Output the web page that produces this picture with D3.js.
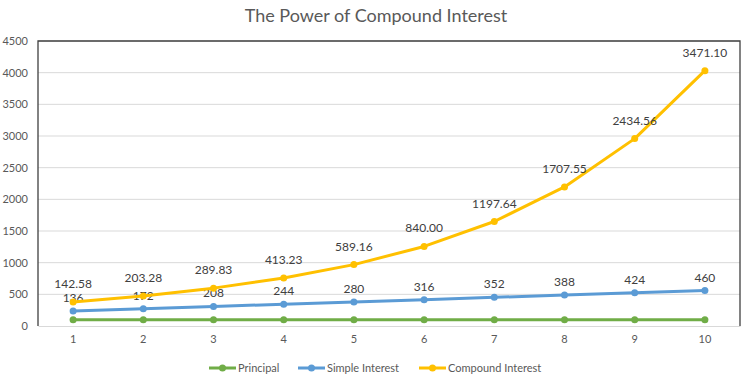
<!DOCTYPE html>
<html>
<head>
<meta charset="utf-8">
<script src="https://cdn.jsdelivr.net/npm/d3@7"></script>
<style>
  body { margin: 0; background: #fff; }
  text { font-family: "Lato", "Open Sans", sans-serif; }
</style>
</head>
<body>
<svg width="752" height="388"></svg>
<script>
var years = [1, 2, 3, 4, 5, 6, 7, 8, 9, 10];
var principal = [100, 100, 100, 100, 100, 100, 100, 100, 100, 100];
var simpleInterest = [136, 172, 208, 244, 280, 316, 352, 388, 424, 460];
var compoundInterest = [142.58, 203.28, 289.83, 413.23, 589.16, 840.00, 1197.64, 1707.55, 2434.56, 3471.10];
var yTicks = [0, 500, 1000, 1500, 2000, 2500, 3000, 3500, 4000, 4500];

var svg = d3.select("svg"),
    margin = {top: 41, right: 12, bottom: 62, left: 38},
    width = 752 - margin.left - margin.right,
    height = 388 - margin.top - margin.bottom,
    g = svg.append("g").attr("transform", "translate(" + margin.left + "," + margin.top + ")");

svg.append("text")
    .attr("x", 376)
    .attr("y", 22)
    .attr("text-anchor", "middle")
    .attr("fill", "#595959")
    .style("font-size", "18px")
    .text("The Power of Compound Interest");

var x = d3.scaleBand().domain(years).range([0, width]),
    y = d3.scaleLinear().domain([0, 4500]).range([height, 0]);

// stacked line chart: each series sits on top of the previous one
var series = [
    {name: "Principal", color: "#70AD47", values: principal, labels: false},
    {name: "Simple Interest", color: "#5B9BD5", values: simpleInterest, labels: true, fmt: d3.format("d"), off: 9},
    {name: "Compound Interest", color: "#FFC000", values: compoundInterest, labels: true, fmt: d3.format(".2f"), off: 14}
];
var base = years.map(function() { return 0; });
series.forEach(function(s) {
    s.points = years.map(function(yr, i) {
        base[i] += s.values[i];
        return {year: yr, value: s.values[i], top: base[i]};
    });
});

// gridlines
g.append("g")
    .selectAll("line")
    .data(yTicks.slice(1))
    .enter().append("line")
    .attr("x1", 0).attr("x2", width)
    .attr("y1", function(d) { return y(d); })
    .attr("y2", function(d) { return y(d); })
    .attr("stroke", "#d9d9d9");

// x axis
var xAxis = g.append("g")
    .attr("transform", "translate(0," + height + ")")
    .call(d3.axisBottom(x).tickSize(0).tickPadding(9));
xAxis.select(".domain").attr("stroke", "#d9d9d9");
xAxis.selectAll("text").attr("fill", "#595959").style("font-size", "11px");

// y axis
var yAxis = g.append("g")
    .call(d3.axisLeft(y).tickValues(yTicks).tickFormat(d3.format("d")).tickSize(0).tickPadding(10));
yAxis.select(".domain").remove();
yAxis.selectAll("text").attr("fill", "#595959").style("font-size", "11px");

// plot border (left, top, right)
g.append("path")
    .attr("d", "M0," + height + "V0H" + width + "V" + height)
    .attr("fill", "none")
    .attr("stroke", "#404040")
    .attr("stroke-width", 1.3);

var line = d3.line()
    .x(function(d) { return x(d.year) + x.bandwidth() / 2; })
    .y(function(d) { return y(d.top); });

var sg = g.selectAll(".series")
    .data(series)
    .enter().append("g")
    .attr("class", "series");

sg.append("path")
    .attr("d", function(d) { return line(d.points); })
    .attr("fill", "none")
    .attr("stroke", function(d) { return d.color; })
    .attr("stroke-width", 3)
    .attr("stroke-linejoin", "round");

sg.selectAll("circle")
    .data(function(d) { return d.points.map(function(p) { return {p: p, color: d.color}; }); })
    .enter().append("circle")
    .attr("cx", function(d) { return x(d.p.year) + x.bandwidth() / 2; })
    .attr("cy", function(d) { return y(d.p.top); })
    .attr("r", 3.5)
    .attr("fill", function(d) { return d.color; });

sg.filter(function(d) { return d.labels; })
    .selectAll(".label")
    .data(function(d) { return d.points.map(function(p) { return {p: p, s: d}; }); })
    .enter().append("text")
    .attr("class", "label")
    .attr("x", function(d) { return x(d.p.year) + x.bandwidth() / 2; })
    .attr("y", function(d) { return y(d.p.top) - d.s.off; })
    .attr("text-anchor", "middle")
    .attr("fill", "#404040")
    .style("font-size", "12px")
    .text(function(d) { return d.s.fmt(d.p.value); });

// legend
var legendX = [209, 298, 419];
var legend = svg.append("g")
    .selectAll("g")
    .data(series)
    .enter().append("g")
    .attr("transform", function(d, i) { return "translate(" + legendX[i] + ",368)"; });

legend.append("line")
    .attr("x1", 0).attr("x2", 27)
    .attr("stroke", function(d) { return d.color; })
    .attr("stroke-width", 3);
legend.append("circle")
    .attr("cx", 13.5)
    .attr("r", 3.5)
    .attr("fill", function(d) { return d.color; });
legend.append("text")
    .attr("x", 29)
    .attr("dy", "0.35em")
    .attr("fill", "#595959")
    .style("font-size", "11px")
    .text(function(d) { return d.name; });
</script>
</body>
</html>
